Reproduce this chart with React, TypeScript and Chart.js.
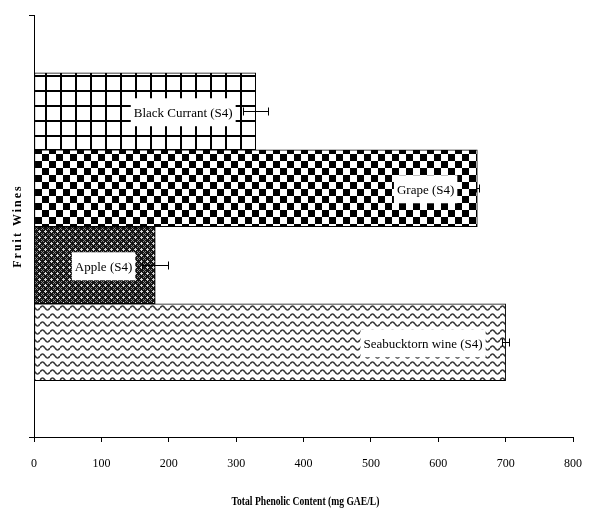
import React, { useEffect, useRef } from 'react';
import { Chart, registerables } from 'chart.js';

Chart.register(...registerables);

const categories = ['Black Currant (S4)', 'Grape (S4)', 'Apple (S4)', 'Seabucktorn wine (S4)'];
const phenolicValues = [329, 658, 180, 700];
const errorValues = [19, 2, 19, 5];
const xTickValues = [0, 100, 200, 300, 400, 500, 600, 700, 800];
const xTitle = 'Total Phenolic Content (mg GAE/L)';
const yTitle = 'Fruit Wines';
const patternKinds = ['grid', 'checker', 'crosshatch', 'wave'];

const SERIF = '"Liberation Serif", "Times New Roman", serif';

function makePattern(ctx: CanvasRenderingContext2D, kind: string): CanvasPattern | string {
  const c = document.createElement('canvas');
  const g = c.getContext('2d') as CanvasRenderingContext2D;
  if (kind === 'grid') {
    c.width = 15; c.height = 15;
    g.fillStyle = '#fff'; g.fillRect(0, 0, 15, 15);
    g.fillStyle = '#000';
    g.fillRect(0, 0, 2, 15);
    g.fillRect(0, 0, 15, 2);
  } else if (kind === 'checker') {
    c.width = 14; c.height = 14;
    g.fillStyle = '#fff'; g.fillRect(0, 0, 14, 14);
    g.fillStyle = '#000';
    g.fillRect(0, 0, 7, 7);
    g.fillRect(7, 7, 7, 7);
  } else if (kind === 'crosshatch') {
    c.width = 6; c.height = 6;
    g.fillStyle = '#151515'; g.fillRect(0, 0, 6, 6);
    g.fillStyle = '#d8d8d8';
    g.fillRect(3, 2, 1, 3);
    g.fillRect(2, 3, 3, 1);
    g.fillStyle = '#8a8a8a';
    g.fillRect(0, 0, 1, 1);
    g.fillRect(1, 1, 1, 1);
    g.fillRect(5, 5, 1, 1);
    g.fillRect(5, 1, 1, 1);
    g.fillRect(1, 5, 1, 1);
  } else {
    c.width = 10; c.height = 8;
    g.fillStyle = '#fff'; g.fillRect(0, 0, 10, 8);
    g.strokeStyle = '#333';
    g.lineWidth = 1.5;
    g.beginPath();
    for (let x = 0; x <= 10; x += 0.5) {
      const y = 4 - 2 * Math.sin((x / 10) * Math.PI * 2);
      if (x === 0) g.moveTo(x, y); else g.lineTo(x, y);
    }
    g.stroke();
  }
  return ctx.createPattern(c, 'repeat') || '#888';
}

const barAnnotations = {
  id: 'barAnnotations',
  afterDatasetsDraw(chart: any) {
    const ctx = chart.ctx as CanvasRenderingContext2D;
    const meta = chart.getDatasetMeta(0);
    const xs = chart.scales.x;
    ctx.save();
    ctx.strokeStyle = '#000';
    ctx.lineWidth = 1;
    meta.data.forEach((bar: any, i: number) => {
      const v = phenolicValues[i];
      const e = errorValues[i];
      const x1 = Math.round(xs.getPixelForValue(v - e)) + 0.5;
      const x2 = Math.round(xs.getPixelForValue(v + e)) + 0.5;
      const y = Math.round(bar.y) + 0.5;
      ctx.beginPath();
      ctx.moveTo(x1, y); ctx.lineTo(x2, y);
      ctx.moveTo(x1, y - 4); ctx.lineTo(x1, y + 4);
      ctx.moveTo(x2, y - 4); ctx.lineTo(x2, y + 4);
      ctx.stroke();
    });
    ctx.font = '13px ' + SERIF;
    ctx.textAlign = 'center';
    ctx.textBaseline = 'middle';
    meta.data.forEach((bar: any, i: number) => {
      const text = categories[i];
      const w = ctx.measureText(text).width;
      const boxW = w + 6;
      const boxH = 28;
      const right = bar.x - 20;
      ctx.fillStyle = '#fff';
      ctx.fillRect(right - boxW, bar.y - boxH / 2 + 1, boxW, boxH);
      ctx.fillStyle = '#000';
      ctx.fillText(text, right - boxW / 2, bar.y + 2);
    });
    ctx.restore();
  },
  afterDraw(chart: any) {
    const ctx = chart.ctx as CanvasRenderingContext2D;
    const area = chart.chartArea;
    ctx.save();
    ctx.translate(18, (area.top + area.bottom) / 2);
    ctx.rotate(-Math.PI / 2);
    ctx.font = 'bold 12px ' + SERIF;
    (ctx as any).letterSpacing = '2px';
    ctx.fillStyle = '#000';
    ctx.textAlign = 'center';
    ctx.textBaseline = 'middle';
    ctx.fillText(yTitle, 0, 0);
    ctx.restore();

    ctx.save();
    ctx.translate((area.left + area.right) / 2 + 2, 502);
    ctx.scale(0.8, 1);
    ctx.font = 'bold 12px ' + SERIF;
    ctx.fillStyle = '#000';
    ctx.textAlign = 'center';
    ctx.textBaseline = 'middle';
    ctx.fillText(xTitle, 0, 0);
    ctx.restore();
  },
};

export default function App() {
  const canvasRef = useRef<HTMLCanvasElement | null>(null);

  useEffect(() => {
    const canvas = canvasRef.current;
    if (!canvas) return;
    const ctx = canvas.getContext('2d') as CanvasRenderingContext2D;
    const patterns = patternKinds.map((k) => makePattern(ctx, k));
    const yMin = -1.25;
    const yMax = 4.23;

    const chart = new Chart(canvas, {
      type: 'bar',
      data: {
        datasets: [
          {
            data: categories.map((_, i) => ({ x: phenolicValues[i], y: i })) as any,
            backgroundColor: patterns as any,
            borderColor: '#000',
            borderWidth: 1,
            borderSkipped: false,
            barPercentage: 1,
            categoryPercentage: 1,
          },
        ],
      },
      options: {
        indexAxis: 'y',
        animation: false,
        responsive: true,
        maintainAspectRatio: false,
        layout: { padding: { top: 15, right: 19, left: 0, bottom: 0 } },
        plugins: {
          legend: { display: false },
          tooltip: { enabled: false },
        },
        scales: {
          x: {
            type: 'linear',
            min: 0,
            max: 800,
            offset: false,
            afterBuildTicks: (s: any) => {
              s.ticks = xTickValues.map((v) => ({ value: v }));
            },
            afterFit: (s: any) => {
              s.height = 76;
              s.paddingLeft = 0;
              s.paddingRight = 0;
            },
            grid: {
              display: true,
              drawOnChartArea: false,
              drawTicks: true,
              tickLength: 5,
              color: '#000',
              offset: false,
            },
            border: { display: true, color: '#000', width: 1 },
            ticks: {
              color: '#000',
              padding: 15,
              maxRotation: 0,
              font: { family: SERIF, size: 12 },
            },
            title: { display: false },
          },
          y: {
            type: 'linear',
            reverse: true,
            min: yMin,
            max: yMax,
            offset: false,
            afterBuildTicks: (s: any) => {
              s.ticks = [{ value: yMin }, { value: yMax }];
            },
            afterFit: (s: any) => {
              s.width = 34;
              s.paddingTop = 0;
              s.paddingBottom = 0;
            },
            grid: {
              display: true,
              drawOnChartArea: false,
              drawTicks: true,
              tickLength: 5,
              color: '#000',
              offset: false,
            },
            border: { display: true, color: '#000', width: 1 },
            ticks: {
              display: true,
              callback: () => '',
              padding: 0,
            },
          },
        },
      },
      plugins: [barAnnotations],
    });
    return () => chart.destroy();
  }, []);

  return (
    <div style={{ position: 'absolute', left: 0, top: 0, width: 592, height: 513, background: '#fff' }}>
      <canvas ref={canvasRef} />
    </div>
  );
}
